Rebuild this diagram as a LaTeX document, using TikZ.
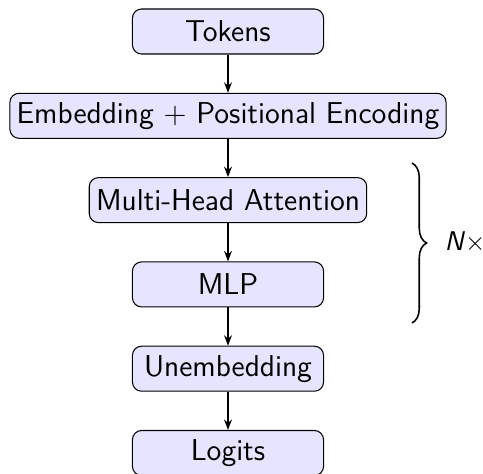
\documentclass[tikz,border=0pt]{standalone}
\usetikzlibrary{decorations.pathreplacing,arrows.meta}
\begin{document}
\begin{tikzpicture}[x=0.3846pt, y=-0.3846pt,
  block/.style={draw, fill=blue!10, rounded corners=3.5pt,
    font=\sffamily\fontsize{11.6}{14}\selectfont,
    minimum height=17.3pt, minimum width=73.5pt, inner xsep=2.6pt},
  flow/.style={thick, -{Stealth[length=4pt,width=3pt]}}]
\useasboundingbox (0,0) rectangle (483,474);

% the pipeline, top to bottom
\node[block] (tok)   at (228,31.5)  {Tokens};
\node[block] (emb)   at (228,115.8) {Embedding + Positional Encoding};
\node[block] (mha)   at (228,200.1) {Multi-Head Attention};
\node[block] (mlp)   at (228,284.4) {MLP};
\node[block] (unemb) at (228,368.7) {Unembedding};
\node[block] (logit) at (228,453)   {Logits};

\draw[flow] (tok) -- (emb);
\draw[flow] (emb) -- (mha);
\draw[flow] (mha) -- (mlp);
\draw[flow] (mlp) -- (unemb);
\draw[flow] (unemb) -- (logit);

% repeated block marker
\coordinate (bt) at (412,163);
\coordinate (bb) at (412,323);
\draw[decorate, decoration={brace, amplitude=5.6pt}, semithick] (bt) -- (bb);
\node[font=\sffamily\fontsize{10.4}{12}\selectfont] (rep) at (465,242) {\textit{N}$\times$};
\end{tikzpicture}
\end{document}
